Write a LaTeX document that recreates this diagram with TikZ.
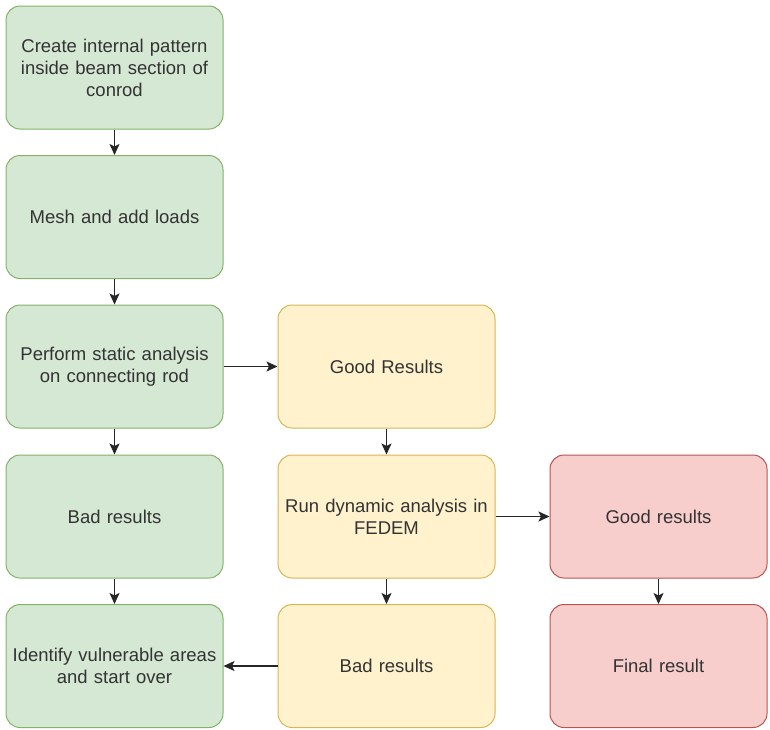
\documentclass[tikz,border=0pt]{standalone}
\usepackage{fontspec}
\setmainfont{Liberation Sans}
\usetikzlibrary{arrows.meta}
\definecolor{gfill}{HTML}{D5E8D4}\definecolor{gline}{HTML}{82B366}
\definecolor{yfill}{HTML}{FFF2CC}\definecolor{yline}{HTML}{D6B656}
\definecolor{rfill}{HTML}{F8CECC}\definecolor{rline}{HTML}{B85450}
\definecolor{txt}{HTML}{333333}
\tikzset{
  box/.style={draw, line width=1pt, rounded corners=14pt, minimum width=217pt, minimum height=123pt,
    align=center, text width=215pt, inner sep=0pt, font=\fontsize{18.5pt}{22pt}\selectfont, text=txt},
  gbox/.style={box, fill=gfill, draw=gline},
  ybox/.style={box, fill=yfill, draw=yline},
  rbox/.style={box, fill=rfill, draw=rline},
  conn/.style={line width=1.3pt, draw=black!85, -{Stealth[length=11pt,width=10pt,inset=2.5pt]}}
}
\begin{document}
\begin{tikzpicture}[x=1pt,y=1pt]
\useasboundingbox (0,0) rectangle (770,-729);
\node[gbox] (a1) at (114.5,-67.5) {Create internal pattern\\inside beam section of\\conrod};
\node[gbox] (a2) at (114.5,-217) {Mesh and add loads};
\node[gbox] (a3) at (114.5,-366.5) {Perform static analysis\\on connecting rod};
\node[gbox] (a4) at (114.5,-516.5) {Bad results};
\node[gbox] (a5) at (114.5,-666) {Identify vulnerable areas\\and start over};
\node[ybox] (b3) at (386.5,-366.5) {Good Results};
\node[ybox] (b4) at (386.5,-516.5) {Run dynamic analysis in\\FEDEM};
\node[ybox] (b5) at (386.5,-666) {Bad results};
\node[rbox] (c4) at (658.5,-516.5) {Good results};
\node[rbox] (c5) at (658.5,-666) {Final result};
\draw[conn] (a1) -- (a2);
\draw[conn] (a2) -- (a3);
\draw[conn] (a3) -- (a4);
\draw[conn] (a4) -- (a5);
\draw[conn] (a3) -- (b3);
\draw[conn] (b3) -- (b4);
\draw[conn] (b4) -- (b5);
\draw[conn] (b4) -- (c4);
\draw[conn] (c4) -- (c5);
\draw[conn] (b5) -- (a5);
\end{tikzpicture}
\end{document}
